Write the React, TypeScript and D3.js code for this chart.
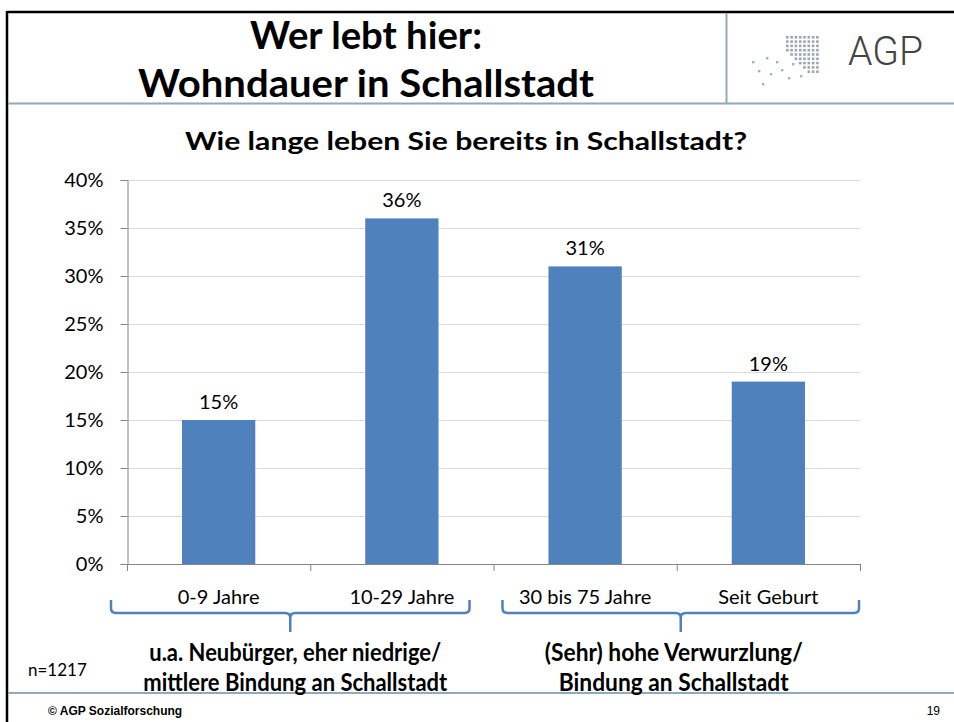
import React, { useEffect, useRef } from "react";
import * as d3 from "d3";

const categories = ["0-9 Jahre", "10-29 Jahre", "30 bis 75 Jahre", "Seit Geburt"];
const shares = [15, 36, 31, 19];
const yTicks = [0, 5, 10, 15, 20, 25, 30, 35, 40];
const groups = [
  { from: 0, to: 1, lines: ["u.a. Neubürger, eher niedrige/", "mittlere Bindung an Schallstadt"], widths: [292, 304] },
  { from: 2, to: 3, lines: ["(Sehr) hohe Verwurzlung/", "Bindung an Schallstadt"], widths: [258, 230] },
];

const W = 954;
const H = 722;
const FONT = "Lato, 'Open Sans', sans-serif";
const BLUE = "#4F81BD";
const FRAME = "#8FAAB9";

function App() {
  const ref = useRef<SVGSVGElement>(null);

  useEffect(() => {
    const svg = d3.select(ref.current);
    svg.selectAll("*").remove();

    // frame
    svg.append("line").attr("x1", 7).attr("x2", W).attr("y1", 12).attr("y2", 12)
      .attr("stroke", "#000").attr("stroke-width", 2.5);
    svg.append("line").attr("x1", 7).attr("x2", 7).attr("y1", 11).attr("y2", H)
      .attr("stroke", "#000").attr("stroke-width", 2.5);
    svg.append("line").attr("x1", 8).attr("x2", W).attr("y1", 103.5).attr("y2", 103.5)
      .attr("stroke", FRAME).attr("stroke-width", 2);
    svg.append("line").attr("x1", 726.5).attr("x2", 726.5).attr("y1", 13).attr("y2", 103)
      .attr("stroke", FRAME).attr("stroke-width", 2);
    svg.append("line").attr("x1", 8).attr("x2", W).attr("y1", 693).attr("y2", 693)
      .attr("stroke", FRAME).attr("stroke-width", 2);

    // header titles
    const title = svg.append("g").attr("font-family", FONT).attr("font-weight", "bold")
      .attr("text-anchor", "middle").attr("fill", "#000");
    title.append("text").attr("x", 366).attr("y", 49).attr("font-size", 38)
      .attr("textLength", 232).attr("lengthAdjust", "spacingAndGlyphs").text("Wer lebt hier:");
    title.append("text").attr("x", 366).attr("y", 97).attr("font-size", 38)
      .attr("textLength", 456).attr("lengthAdjust", "spacingAndGlyphs").text("Wohndauer in Schallstadt");

    // logo
    const logo = svg.append("g");
    for (let r = 0; r < 9; r++) {
      for (let c = 0; c < 8; c++) {
        if (r > 2 && c < r - 3) continue;
        logo.append("rect").attr("x", 786 + c * 4.3).attr("y", 36 + r * 4.3)
          .attr("width", 2.6).attr("height", 2.6).attr("fill", "#9aa7ad");
      }
    }
    const scatter = [[752, 61], [766, 57], [776, 61], [792, 63], [770, 73], [781, 69], [788, 77], [800, 75], [762, 83], [758, 70]];
    scatter.forEach(([px, py]) => logo.append("rect").attr("x", px).attr("y", py)
      .attr("width", 2.4).attr("height", 2.4).attr("fill", "#a9b4b8"));
    logo.append("text").attr("x", 848).attr("y", 65).attr("font-family", "Roboto, sans-serif")
      .attr("font-weight", 300).attr("font-size", 41).attr("fill", "#444")
      .attr("textLength", 75).attr("lengthAdjust", "spacingAndGlyphs").text("AGP");

    // subtitle
    svg.append("text").attr("x", 466).attr("y", 150).attr("text-anchor", "middle")
      .attr("font-family", FONT).attr("font-weight", "bold").attr("font-size", 25)
      .attr("textLength", 562).attr("lengthAdjust", "spacingAndGlyphs")
      .text("Wie lange leben Sie bereits in Schallstadt?");

    // chart
    const left = 127, right = 860, top = 180, bottom = 564;
    const x = d3.scaleBand().domain(categories).range([left, right]).paddingInner(0.6).paddingOuter(0.3);
    const y = d3.scaleLinear().domain([0, 40]).range([bottom, top]);

    const grid = svg.append("g");
    yTicks.filter((t) => t > 0).forEach((t) => {
      grid.append("line").attr("x1", left).attr("x2", right).attr("y1", y(t) + 0.5).attr("y2", y(t) + 0.5)
        .attr("stroke", "#D9D9D9").attr("stroke-width", 1);
    });

    svg.append("g").selectAll("rect").data(shares).enter().append("rect")
      .attr("x", (_, i) => x(categories[i])!)
      .attr("width", x.bandwidth())
      .attr("y", (d) => y(d))
      .attr("height", (d) => bottom - y(d))
      .attr("fill", BLUE);

    // y axis
    const yAxis = svg.append("g").attr("transform", `translate(${left + 0.5},0)`)
      .call(d3.axisLeft(y).tickValues(yTicks).tickSize(7).tickPadding(17).tickFormat((d) => `${d}%`));
    yAxis.select(".domain").attr("stroke", "#868686");
    yAxis.selectAll(".tick line").attr("stroke", "#868686");
    yAxis.selectAll(".tick text").attr("font-family", FONT).attr("font-size", 20).attr("fill", "#000");

    // x axis
    const xAxisG = svg.append("g");
    xAxisG.append("line").attr("x1", left).attr("x2", right).attr("y1", bottom + 0.5).attr("y2", bottom + 0.5)
      .attr("stroke", "#868686");
    const step = x.step();
    d3.range(categories.length + 1).forEach((i) => {
      xAxisG.append("line").attr("x1", left + i * step + 0.5).attr("x2", left + i * step + 0.5)
        .attr("y1", bottom).attr("y2", bottom + 7).attr("stroke", "#868686");
    });
    categories.forEach((c) => {
      xAxisG.append("text").attr("x", x(c)! + x.bandwidth() / 2).attr("y", 604)
        .attr("text-anchor", "middle").attr("font-family", FONT).attr("font-size", 20).text(c);
    });

    // value labels
    svg.append("g").selectAll("text").data(shares).enter().append("text")
      .attr("x", (_, i) => x(categories[i])! + x.bandwidth() / 2)
      .attr("y", (d) => y(d) - 11)
      .attr("text-anchor", "middle").attr("font-family", FONT).attr("font-size", 20)
      .text((d) => `${d}%`);

    // braces + group labels
    const braceInset = [[-71, 31], [-46, 54]];
    groups.forEach((g, gi) => {
      const x0 = x(categories[g.from])! + braceInset[gi][0];
      const x1 = x(categories[g.to])! + x.bandwidth() + braceInset[gi][1];
      const cx = (x0 + x1) / 2;
      const yTop = 600, yMid = 613, yTip = 632, r = 5;
      const path = d3.path();
      path.moveTo(x0, yTop);
      path.lineTo(x0, yMid - r);
      path.quadraticCurveTo(x0, yMid, x0 + r, yMid);
      path.lineTo(cx - r, yMid);
      path.quadraticCurveTo(cx, yMid, cx, yMid + r);
      path.lineTo(cx, yTip);
      path.moveTo(cx, yMid + r);
      path.quadraticCurveTo(cx, yMid, cx + r, yMid);
      path.lineTo(x1 - r, yMid);
      path.quadraticCurveTo(x1, yMid, x1, yMid - r);
      path.lineTo(x1, yTop);
      svg.append("path").attr("d", path.toString()).attr("fill", "none")
        .attr("stroke", BLUE).attr("stroke-width", 2.5);
      g.lines.forEach((ln, i) => {
        svg.append("text").attr("x", cx + (gi === 0 ? 5 : -7)).attr("y", 661 + i * 30)
          .attr("text-anchor", "middle").attr("font-family", FONT).attr("font-weight", "bold")
          .attr("font-size", 25).attr("textLength", g.widths[i]).attr("lengthAdjust", "spacingAndGlyphs")
          .text(ln);
      });
    });

    // footer
    svg.append("text").attr("x", 28).attr("y", 676).attr("font-family", FONT).attr("font-size", 17).text("n=1217");
    svg.append("text").attr("x", 48).attr("y", 715).attr("font-family", "'Liberation Sans', Arial, sans-serif")
      .attr("font-weight", "bold").attr("font-size", 12).text("© AGP Sozialforschung");
    svg.append("text").attr("x", 940).attr("y", 715).attr("text-anchor", "end")
      .attr("font-family", "'Liberation Sans', Arial, sans-serif").attr("font-size", 12).text("19");
  }, []);

  return (
    <svg ref={ref} width={W} height={H} style={{ position: "absolute", left: 0, top: 0, background: "#fff" }} />
  );
}

export default App;
